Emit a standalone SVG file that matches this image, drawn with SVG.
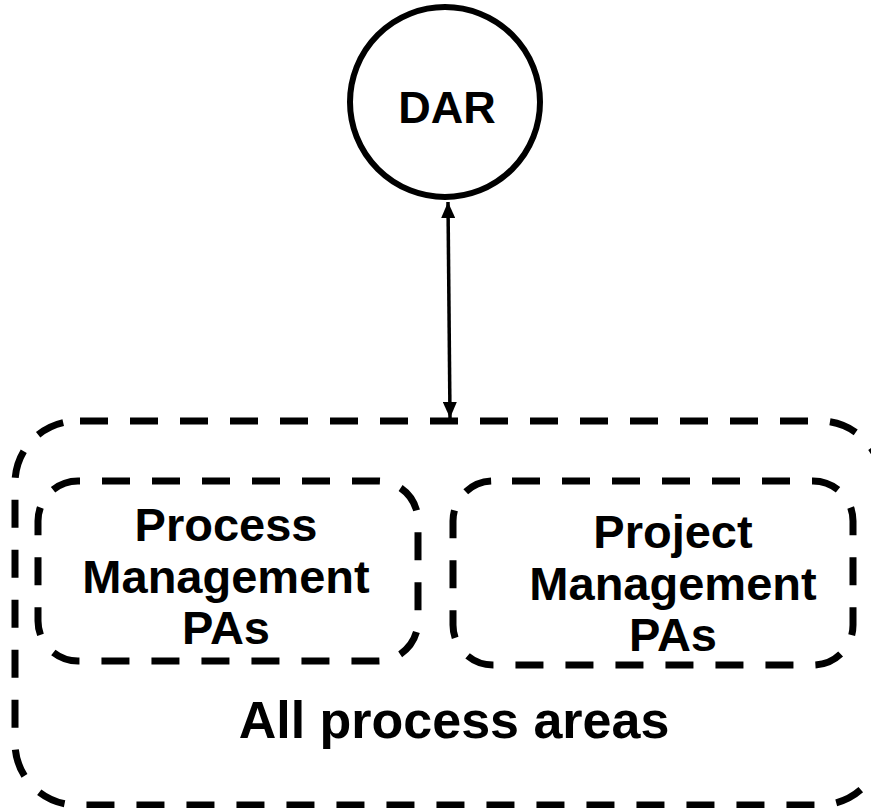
<svg xmlns="http://www.w3.org/2000/svg" width="871" height="808" viewBox="0 0 871 808">
  <style>
    .bg { fill: #ffffff; }
    .dash { fill: none; stroke: #000; stroke-width: 7; stroke-dasharray: 28 22; }
    .solid { fill: #fff; stroke: #000; stroke-width: 6; }
    .lbl { font-family: "Liberation Sans", Arial, sans-serif; font-weight: bold; fill: #000; text-anchor: middle; }
    .link { stroke: #000; stroke-width: 3.5; fill: none; }
  </style>
  <defs>
    <marker id="head" viewBox="0 0 16 14" refX="16" refY="7" markerWidth="16" markerHeight="14" orient="auto-start-reverse" markerUnits="userSpaceOnUse">
      <path d="M0,0 L16,7 L0,14 Z" fill="#000"/>
    </marker>
  </defs>
  <rect class="bg" x="0" y="0" width="871" height="808"/>

  <!-- outer container -->
  <g id="all-process-areas">
    <rect class="dash" x="15" y="421" width="867" height="384" rx="62" ry="62" stroke-dashoffset="47"/>
    <text class="lbl" x="454" y="738" font-size="52">All process areas</text>
  </g>

  <g id="process-management">
    <rect class="dash" x="38" y="481" width="380" height="180" rx="40" ry="40" stroke-dashoffset="26"/>
    <text class="lbl" x="226" y="541" font-size="47">Process</text>
    <text class="lbl" x="226" y="593" font-size="47">Management</text>
    <text class="lbl" x="226" y="644" font-size="47">PAs</text>
  </g>

  <g id="project-management">
    <rect class="dash" x="453" y="481" width="400" height="184" rx="40" ry="40" stroke-dashoffset="31"/>
    <text class="lbl" x="673" y="548" font-size="47">Project</text>
    <text class="lbl" x="673" y="600" font-size="47">Management</text>
    <text class="lbl" x="673" y="651" font-size="47">PAs</text>
  </g>

  <g id="dar">
    <circle class="solid" cx="445" cy="102" r="95"/>
    <text class="lbl" x="447" y="123" font-size="45">DAR</text>
  </g>

  <!-- connectors -->
  <g id="connectors">
    <line class="link" x1="448" y1="202" x2="450" y2="418" marker-start="url(#head)" marker-end="url(#head)"/>
  </g>
</svg>
